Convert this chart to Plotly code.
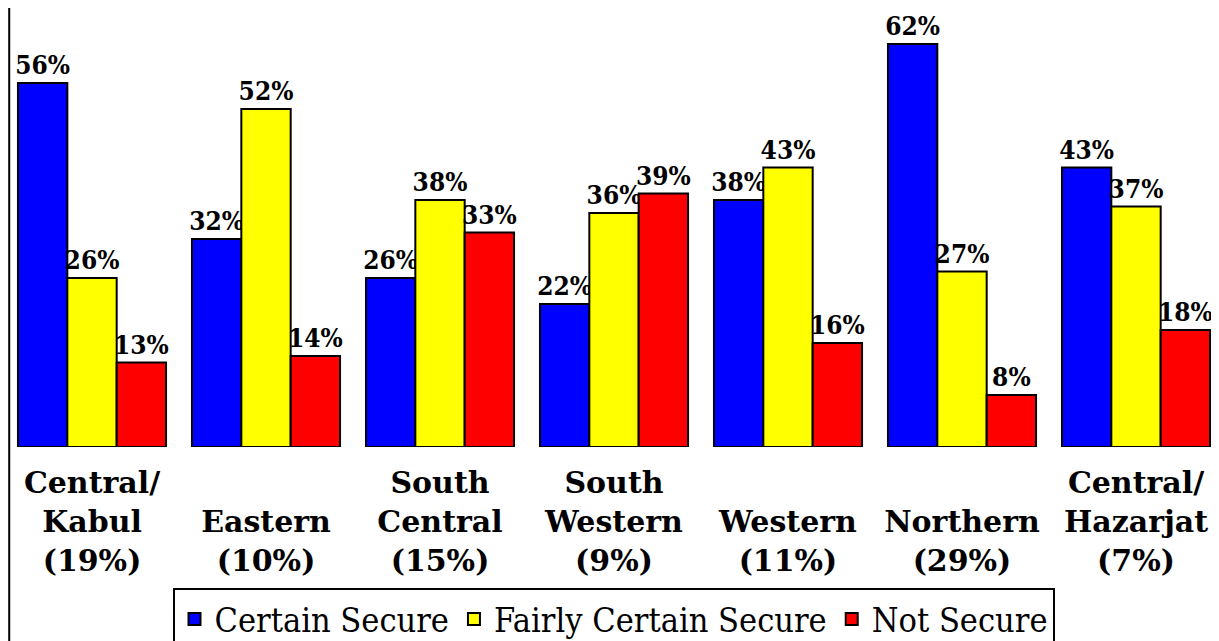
import plotly.graph_objects as go

regions = ["Central/<br>Kabul<br>(19%)", "<br>Eastern<br>(10%)", "South<br>Central<br>(15%)",
           "South<br>Western<br>(9%)", "<br>Western<br>(11%)", "<br>Northern<br>(29%)",
           "Central/<br>Hazarjat<br>(7%)"]
certain = [56, 32, 26, 22, 38, 62, 43]
fairly = [26, 52, 38, 36, 43, 27, 37]
not_secure = [13, 14, 33, 39, 16, 8, 18]

series = [("Certain Secure", certain, "#0000FF"),
          ("Fairly Certain Secure", fairly, "#FFFF00"),
          ("Not Secure", not_secure, "#FF0000")]

SERIF = "DejaVu Serif, serif"
SERIF_COND = "DejaVu Serif Condensed, DejaVu Serif, serif"

fig = go.Figure()
for name, vals, col in series:
    fig.add_trace(go.Bar(
        x=list(range(len(regions))), y=vals, name=name,
        marker=dict(color=col, line=dict(color="black", width=2)),
        texttemplate="<b>%{y}%</b>", textposition="outside", constraintext="none",
        textfont=dict(family=SERIF_COND, size=26, color="black"),
        cliponaxis=False,
    ))

bold_ticks = ["<b>" + t.replace("<br>", "</b><br><b>") + "</b>" for t in regions]

fig.update_layout(
    width=1211, height=633,
    margin=dict(l=0, r=0, t=0, b=194, autoexpand=False),
    plot_bgcolor="white", paper_bgcolor="white",
    font=dict(family=SERIF, color="black"),
    barmode="group", bargap=0.149, bargroupgap=0,
    showlegend=True,
    legend=dict(orientation="h", x=0.5, xanchor="center", y=-0.322, yanchor="top",
                font=dict(family=SERIF_COND, size=34, color="black"),
                bordercolor="black", borderwidth=2, bgcolor="white"),
    xaxis=dict(tickmode="array", tickvals=list(range(len(regions))), ticktext=bold_ticks,
               range=[-0.4828, 6.477], showgrid=False, zeroline=False, showline=False,
               ticks="", automargin=False,
               tickfont=dict(family=SERIF, size=30, color="black"),
               ticklabelstandoff=15),
    yaxis=dict(range=[0, 67.54], visible=False, automargin=False),
)

fig.add_shape(type="line", xref="paper", yref="paper", x0=0.001, x1=0.001,
              y0=-194/439, y1=1, line=dict(color="black", width=2))

fig.write_html("out.html")
